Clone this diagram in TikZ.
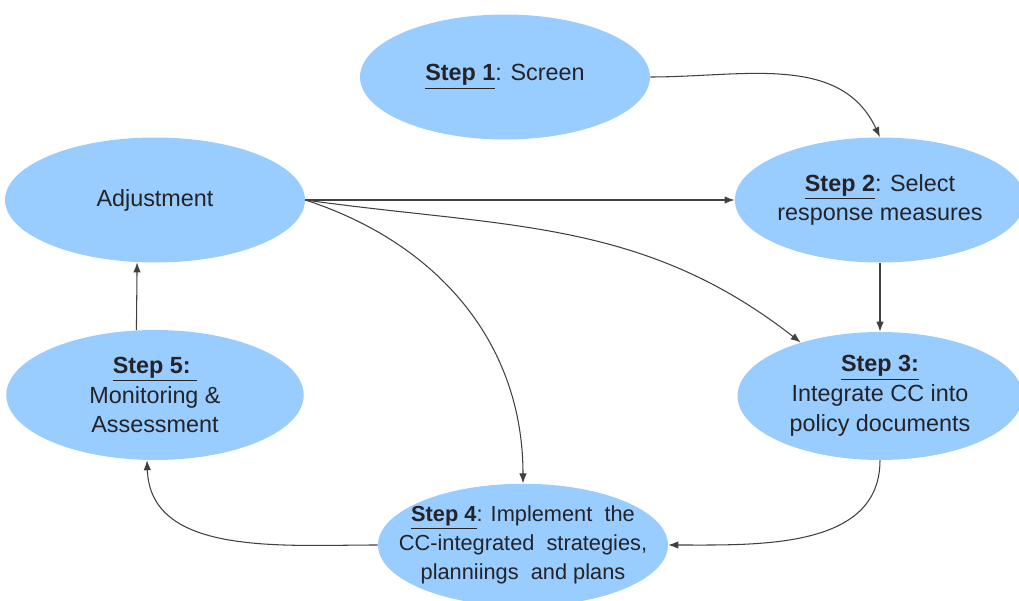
\documentclass[tikz,border=0pt]{standalone}
\usepackage{fontspec}
\setmainfont{Liberation Sans}
\usetikzlibrary{shapes.geometric,arrows.meta}

\definecolor{stepblue}{RGB}{153,204,255}
\definecolor{inkgray}{RGB}{35,35,40}

\tikzset{
  stage/.style={ellipse, fill=stepblue, draw=none, text=inkgray, align=center,
    inner sep=0pt, minimum width=5.8cm, minimum height=2.5cm,
    font=\fontsize{13.3}{17}\selectfont},
  flow/.style={draw=black!75, line width=0.6pt, -{Latex[length=2mm,width=1.5mm]}}
}

\newcommand{\stepname}[1]{\underline{\textbf{#1}}}

\begin{document}
\begin{tikzpicture}[x=0.02cm,y=-0.02cm]

      \useasboundingbox (0,0) rectangle (1019,601);

      % Stages
      \node[stage] (s1) at (505,77) {\stepname{Step 1}: Screen};
      \node[stage, minimum width=6cm] (adj) at (155,200) {Adjustment};
      \node[stage] (s2) at (880,200) {\stepname{Step 2}: Select\\response measures};
      \node[stage, minimum width=5.95cm, minimum height=2.6cm] (s5) at (155,395) {\stepname{Step 5:\ }\\Monitoring \&\\Assessment};
      \node[stage, minimum width=5.7cm, minimum height=2.56cm] (s3) at (880,396) {\stepname{Step 3:}\\Integrate CC into\\policy documents};
      \node[stage, inner sep=-14pt, minimum width=5.8cm, minimum height=2.45cm,
        font=\fontsize{12.4}{16.5}\selectfont] (s4) at (523,545)
        {\stepname{Step 4}: Implement\ \ the\\CC-integrated\ \ strategies,\\planniings\ \ and plans};

      % Straight links
      \draw[flow] (adj.east) -- (s2.west);
      \draw[flow] (s2.south) -- (s3.north);
      \draw[flow] (s5.106) -- (adj.254);

      % Curved links
      \draw[flow] (s1.east) to[out=0,in=115] (s2.north);
      \draw[flow] (adj.east) to[out=-8,in=142] (s3.146);
      \draw[flow] (adj.east) to[out=-18,in=90] (s4.north);
      \draw[flow] (s3.south) to[out=-90,in=0] (s4.east);
      \draw[flow] (s4.west) to[out=180,in=-88] (s5.263);

\end{tikzpicture}
\end{document}
